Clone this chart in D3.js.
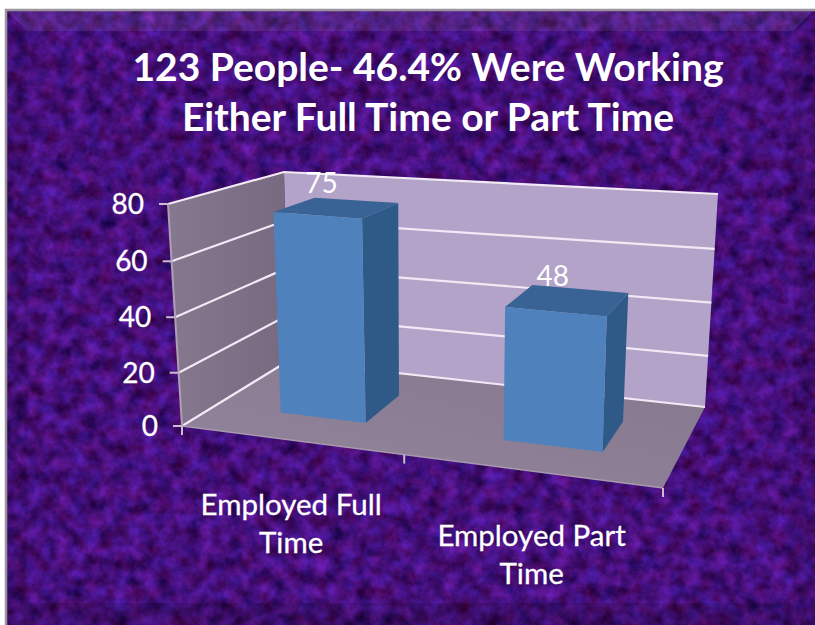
<!DOCTYPE html>
<html><head><meta charset="utf-8">
<script src="https://cdn.jsdelivr.net/npm/d3@7/dist/d3.min.js"></script>
<style>html,body{margin:0;padding:0;background:#fff;overflow:hidden}svg{display:block}text{font-family:Lato,"Open Sans",sans-serif;fill:#fff}</style>
</head><body><svg id="c" width="815" height="625"></svg>
<script>
const titleLines = ["123 People- 46.4% Were Working", "Either Full Time or Part Time"];
const categories = ["Employed Full Time", "Employed Part Time"];
const categoryLines = [["Employed Full", "Time"], ["Employed Part", "Time"]];
const values = [75, 48];
const yTicks = [0, 20, 40, 60, 80];

const svg = d3.select("#c");
const defs = svg.append("defs");

// paper texture
const f = defs.append("filter").attr("id","tex").attr("x",0).attr("y",0).attr("width","100%").attr("height","100%").attr("color-interpolation-filters","sRGB");
f.append("feTurbulence").attr("type","fractalNoise").attr("baseFrequency","0.07").attr("numOctaves",4).attr("seed",7).attr("result","n");
f.append("feColorMatrix").attr("in","n").attr("type","matrix")
 .attr("values","0.32 0.22 0 0 0.0  0.16 0 0 0 -0.02  0.62 0 0 0 0.17  0 0 0 0 1");

const g1 = defs.append("linearGradient").attr("id","leftWall").attr("x1",0).attr("x2",1).attr("y1",0).attr("y2",0);
g1.append("stop").attr("offset",0).attr("stop-color","#86788f");
g1.append("stop").attr("offset",1).attr("stop-color","#776a80");
const g2 = defs.append("linearGradient").attr("id","floor").attr("x1",0).attr("x2",1).attr("y1",1).attr("y2",0);
g2.append("stop").attr("offset",0).attr("stop-color","#93859c");
g2.append("stop").attr("offset",1).attr("stop-color","#85778c");

// chart frame of the projected box
const floorCorners = { fl:[182,426], bl:[288,361], br:[705,407], fr:[663,488] };
const topCorners   = { fl:[168,204], bl:[284,172], br:[718,194], fr:[672,245] };

const xBand = d3.scaleBand().domain(categories).range([0,1]).paddingInner(0.6).paddingOuter(0.3);
const uWarp = d3.scaleLinear().domain([0,0.5,1]).range([0,0.462,1]);
const yNorm = d3.scaleLinear().domain(yTicks).range([0,0.24,0.49,0.742,1]);
const depthFront = 0.33, depthBack = 0.72;

const mix = (a,b,t)=>[a[0]+(b[0]-a[0])*t, a[1]+(b[1]-a[1])*t];
function project(u, w, v){
  const uu = uWarp(u), t = yNorm(v);
  const base = mix(mix(floorCorners.fl,floorCorners.fr,uu), mix(floorCorners.bl,floorCorners.br,uu), w);
  const top  = mix(mix(topCorners.fl,topCorners.fr,uu), mix(topCorners.bl,topCorners.br,uu), w);
  return mix(base, top, t);
}
const path = pts => d3.line()(pts) + "Z";
const line = pts => d3.line()(pts);

// background
svg.append("rect").attr("x",5).attr("y",9).attr("width",810).attr("height",616).attr("fill","#4a1290").attr("filter","url(#tex)");
const X0=5,Y0=9,X1=815,Y1=625,B=22;
const bevel = svg.append("g");
bevel.append("path").attr("d",path([[X0,Y0],[X1,Y0],[X1-B,Y0+B],[X0+B,Y0+B]])).attr("fill","#fff").attr("opacity",.08);
bevel.append("path").attr("d",path([[X0,Y0],[X0+B,Y0+B],[X0+B,Y1-B],[X0,Y1]])).attr("fill","#000").attr("opacity",.08);
bevel.append("path").attr("d",path([[X1,Y0],[X1-B,Y0+B],[X1-B,Y1-B],[X1,Y1]])).attr("fill","#000").attr("opacity",.08);
bevel.append("path").attr("d",path([[X0,Y1],[X0+B,Y1-B],[X1-B,Y1-B],[X1,Y1]])).attr("fill","#000").attr("opacity",.14);
svg.append("path").attr("d",line([[X0+1,Y1],[X0+1,Y0+1],[X1,Y0+1]])).attr("fill","none").attr("stroke","#9a949e").attr("stroke-width",2.5);

// title
svg.append("g").selectAll("text").data(titleLines).join("text")
  .attr("x",428).attr("y",(d,i)=>81+i*49.5).attr("text-anchor","middle")
  .attr("font-size",39).attr("font-weight",700).text(d=>d);

// walls and floor
const chart = svg.append("g");
chart.append("path").attr("d",path([project(0,0,0),project(0,1,0),project(1,1,0),project(1,0,0)])).attr("fill","url(#floor)");
chart.append("path").attr("d",path([project(0,1,0),project(0,1,80),project(1,1,80),project(1,1,0)])).attr("fill","#b3a3c8");
chart.append("path").attr("d",path([project(0,0,0),project(0,0,80),project(0,1,80),project(0,1,0)])).attr("fill","url(#leftWall)");

// gridlines
yTicks.forEach(v=>{
  chart.append("path").attr("d",line([project(0,0,v),project(0,1,v),project(1,1,v)]))
    .attr("fill","none").attr("stroke","#f1eaf5").attr("stroke-width",2.2);
});
// axis lines and ticks
chart.append("path").attr("d",line([project(0,0,0),project(0,0,80)])).attr("fill","none").attr("stroke","#ad9fb4").attr("stroke-width",2);
chart.append("path").attr("d",line([project(0,0,0),project(1,0,0)])).attr("fill","none").attr("stroke","#a899ae").attr("stroke-width",1.5);
yTicks.forEach(v=>{
  const p=project(0,0,v);
  chart.append("path").attr("d",line([[p[0]-9,p[1]],p])).attr("stroke","#c9bdce").attr("stroke-width",2).attr("fill","none");
});
[0,0.5,1].forEach(u=>{
  const p=project(u,0,0);
  chart.append("path").attr("d",line([p,[p[0],p[1]+9]])).attr("stroke","#c9bdce").attr("stroke-width",2).attr("fill","none");
});

// bars
const bars = chart.append("g").selectAll("g").data(categories.map((c,i)=>({c,v:values[i]}))).join("g");
const L = d=>xBand(d.c), R = d=>xBand(d.c)+xBand.bandwidth();
bars.append("path").attr("fill","#2f5a87").attr("d",d=>path([project(R(d),depthFront,0),project(R(d),depthFront,d.v),project(R(d),depthBack,d.v),project(R(d),depthBack,0)]));
bars.append("path").attr("fill","#386394").attr("d",d=>path([project(L(d),depthFront,d.v),project(L(d),depthBack,d.v),project(R(d),depthBack,d.v),project(R(d),depthFront,d.v)]));
bars.append("path").attr("fill","#4f81bd").attr("d",d=>path([project(L(d),depthFront,0),project(L(d),depthFront,d.v),project(R(d),depthFront,d.v),project(R(d),depthFront,0)]));

// value labels
bars.append("text").attr("text-anchor","middle").attr("font-size",28)
  .attr("x",d=>project(xBand(d.c)+xBand.bandwidth()/2,0.52,d.v)[0]-15)
  .attr("y",d=>project(xBand(d.c)+xBand.bandwidth()/2,0.52,d.v)[1]-15)
  .text(d=>d.v);

// y tick labels
svg.append("g").selectAll("text").data(yTicks).join("text")
  .attr("text-anchor","end").attr("font-size",28)
  .attr("x",d=>project(0,0,d)[0]-24)
  .attr("y",d=>project(0,0,d)[1]+10)
  .attr("stroke","#fff").attr("stroke-width",.3)
  .text(d=>d);

// category labels
categories.forEach((c,i)=>{
  const p = project(xBand(c)+xBand.bandwidth()/2,0,0);
  svg.append("g").selectAll("text").data(categoryLines[i]).join("text")
    .attr("text-anchor","middle").attr("font-size",29.5)
    .attr("stroke","#fff").attr("stroke-width",.3)
    .attr("x",p[0]-2).attr("y",(d,k)=>p[1]+75+k*38).text(d=>d);
});
</script></body></html>
